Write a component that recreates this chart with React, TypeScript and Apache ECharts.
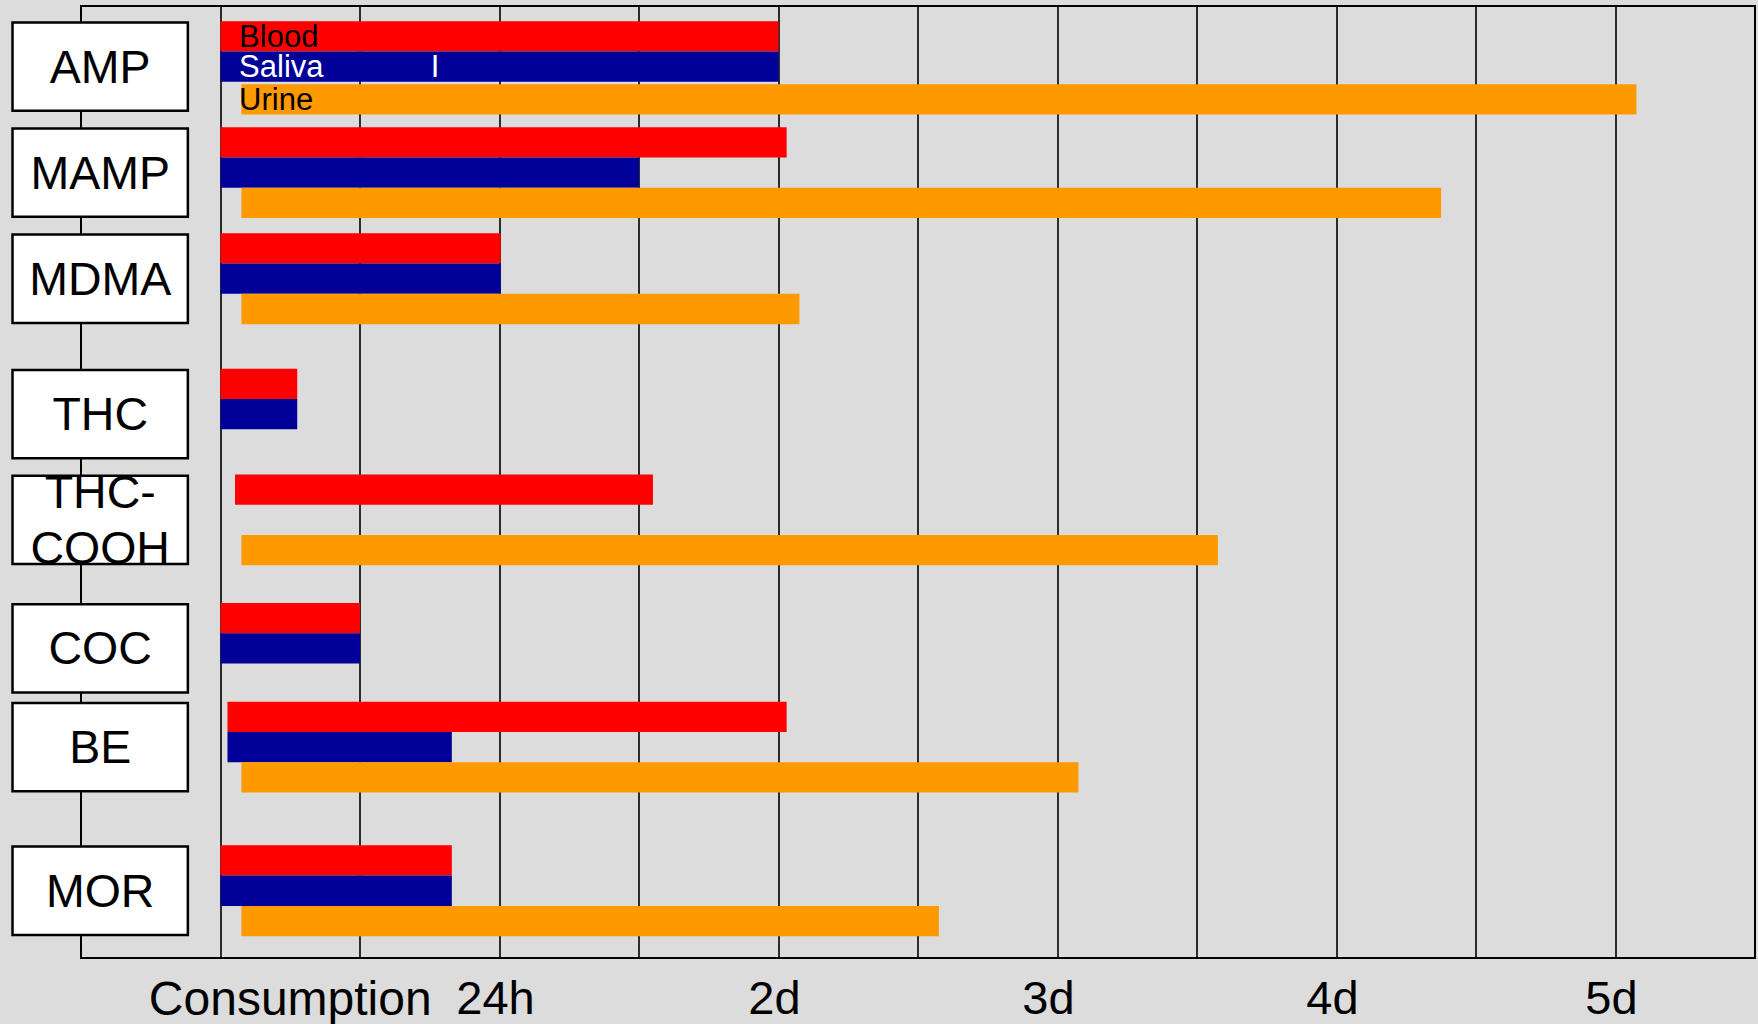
import React, { useEffect, useRef } from 'react';
import * as echarts from 'echarts';

// ---- data ----
const categories = ['AMP', 'MAMP', 'MDMA', 'THC', 'THC-\nCOOH', 'COC', 'BE', 'MOR'];
// centre of each drug row on the vertical scale (in bar-height units)
const rowCenters = [2.0, 5.5, 9.0, 13.47, 16.96, 21.2, 24.46, 29.2];

const seriesNames = ['Blood', 'Saliva', 'Urine'];
// detection windows, hours after consumption (null = no bar)
const bloodStart = [0, 0, 0, 0, 1.25, 0, 0.6, 0];
const bloodEnd = [48, 48.7, 24.1, 6.6, 37.2, 12, 48.7, 19.9];
const salivaStart = [0, 0, 0, 0, null, 0, 0.6, 0];
const salivaEnd = [48, 36, 24.1, 6.6, null, 12, 19.9, 19.9];
const urineStart = [1.8, 1.8, 1.8, null, 1.8, null, 1.8, 1.8];
const urineEnd = [121.8, 105, 49.8, null, 85.8, null, 73.8, 61.8];

const tickValues = [24, 48, 72, 96, 120];
const tickLabels = ['24h', '2d', '3d', '4d', '5d'];
const originLabel = 'Consumption';

// ---- layout / style ----
const FONT = "'Liberation Sans', Arial, Helvetica, sans-serif";
const colors = ['#ff0000', '#000099', '#ff9900'];
const nameColors = ['#000000', '#ffffff', '#000000'];
const slotOffsets = [-1, 0, 1];
const urineGap = [0.08, 0, 0, 0, 0, 0, 0, 0]; // small gap above the urine bar (AMP row)
const labelNudge = ['n4', 'n4', 'n9', 'n4', 'n4']; // tick label fine offsets (rich style names)
const nameAt = 1.6; // hours, where series names are written inside the AMP bars
const strayMarkAt = 18.45; // white "I" inside the AMP saliva bar
const boxLeft = -18.0;
const boxRight = -2.7;
const originLabelAt = 6;

const starts = [bloodStart, salivaStart, urineStart];
const ends = [bloodEnd, salivaEnd, urineEnd];

function barSeries(k: number) {
  const data: any[] = [];
  categories.forEach((_, i) => {
    const s = starts[k][i];
    const e = ends[k][i];
    if (s == null || e == null) return;
    const shift = k === 2 ? urineGap[i] : 0;
    data.push([s, e, rowCenters[i] + slotOffsets[k] + shift, i]);
  });
  return {
    type: 'custom',
    name: seriesNames[k],
    coordinateSystem: 'cartesian2d',
    encode: { x: [0, 1], y: 2 },
    clip: false,
    z: 3,
    data,
    renderItem: (params: any, api: any) => {
      const y = api.value(2);
      const p0 = api.coord([api.value(0), y - 0.5]);
      const p1 = api.coord([api.value(1), y + 0.5]);
      const children: any[] = [
        {
          type: 'rect',
          shape: { x: p0[0], y: p0[1], width: p1[0] - p0[0], height: p1[1] - p0[1] },
          style: { fill: colors[k] },
        },
      ];
      if (api.value(3) === 0) {
        const lp = api.coord([nameAt, y]);
        children.push({
          type: 'text',
          x: lp[0],
          y: lp[1],
          style: {
            text: seriesNames[k],
            fill: nameColors[k],
            fontSize: 31,
            lineHeight: 22,
            fontFamily: FONT,
            align: 'left',
            verticalAlign: 'middle',
          },
        });
        if (k === 1) {
          const mp = api.coord([strayMarkAt, y]);
          children.push({
            type: 'text',
            x: mp[0],
            y: mp[1],
            style: {
              text: 'I',
              fill: '#ffffff',
              fontSize: 31,
              lineHeight: 22,
              fontFamily: FONT,
              align: 'center',
              verticalAlign: 'middle',
            },
          });
        }
      }
      return { type: 'group', children };
    },
  };
}

const boxSeries = {
  type: 'custom',
  coordinateSystem: 'cartesian2d',
  encode: { x: [0, 1], y: 2 },
  clip: false,
  z: 4,
  data: categories.map((_, i) => [boxLeft, boxRight, rowCenters[i], i]),
  renderItem: (params: any, api: any) => {
    const c = api.value(2);
    const i = api.value(3);
    const p0 = api.coord([api.value(0), c - 1.5]);
    const p1 = api.coord([api.value(1), c + 1.5]);
    const lw = 2.5;
    return {
      type: 'group',
      children: [
        {
          type: 'rect',
          shape: {
            x: p0[0] + lw / 2,
            y: p0[1] + lw / 2,
            width: p1[0] - p0[0] - lw,
            height: p1[1] - p0[1] - lw,
          },
          style: { fill: '#ffffff', stroke: '#000000', lineWidth: lw },
        },
        {
          type: 'text',
          x: (p0[0] + p1[0]) / 2,
          y: (p0[1] + p1[1]) / 2,
          style: {
            text: categories[i],
            fill: '#000000',
            fontSize: 46.5,
            fontFamily: FONT,
            lineHeight: 56,
            align: 'center',
            verticalAlign: 'middle',
          },
        },
      ],
    };
  },
};

const yMax = 31.42;

const option: any = {
  animation: false,
  backgroundColor: '#dcdcdc',
  textStyle: { fontFamily: FONT },
  grid: {
    left: 81,
    right: 3,
    top: 6,
    bottom: 66,
    show: true,
    borderColor: '#000000',
    borderWidth: 2,
    backgroundColor: 'transparent',
    containLabel: false,
    outerBoundsMode: 'none',
  },
  xAxis: {
    type: 'value',
    min: -12,
    max: 132,
    interval: 12,
    axisLine: { show: true, lineStyle: { color: '#000000', width: 2 } },
    axisTick: { show: false },
    splitLine: { show: true, lineStyle: { color: '#000000', width: 1.6 } },
    axisLabel: {
      show: true,
      margin: 16,
      fontSize: 47,
      color: '#000000',
      fontFamily: FONT,
      formatter: (v: number) => {
        const idx = tickValues.indexOf(Math.round(v));
        return idx >= 0 ? '{' + labelNudge[idx] + '|' + tickLabels[idx] + '}' : '';
      },
      rich: {
        n4: { fontSize: 47, color: '#000000', fontFamily: FONT, padding: [0, 8, 0, 0] },
        n9: { fontSize: 47, color: '#000000', fontFamily: FONT, padding: [0, 18, 0, 0] },
      },
    },
  },
  yAxis: {
    type: 'value',
    min: 0,
    max: yMax,
    inverse: true,
    show: false,
  },
  series: [barSeries(0), barSeries(1), barSeries(2), boxSeries],
};

export default function App() {
  const ref = useRef<HTMLDivElement>(null);
  useEffect(() => {
    const chart = echarts.init(ref.current as HTMLDivElement, null, { renderer: 'svg' });
    chart.setOption(option);
    const cx = chart.convertToPixel({ xAxisIndex: 0 }, originLabelAt) as number;
    const axisY = chart.convertToPixel({ yAxisIndex: 0 }, yMax) as number;
    chart.setOption({
      graphic: [
        {
          type: 'text',
          x: cx,
          y: axisY + 40,
          style: {
            text: originLabel,
            fill: '#000000',
            fontSize: 48,
            fontFamily: FONT,
            align: 'center',
            verticalAlign: 'middle',
          },
        },
      ],
    });
    return () => chart.dispose();
  }, []);
  return (
    <div
      ref={ref}
      style={{ position: 'fixed', left: 0, top: 0, width: 1758, height: 1024 }}
    />
  );
}
